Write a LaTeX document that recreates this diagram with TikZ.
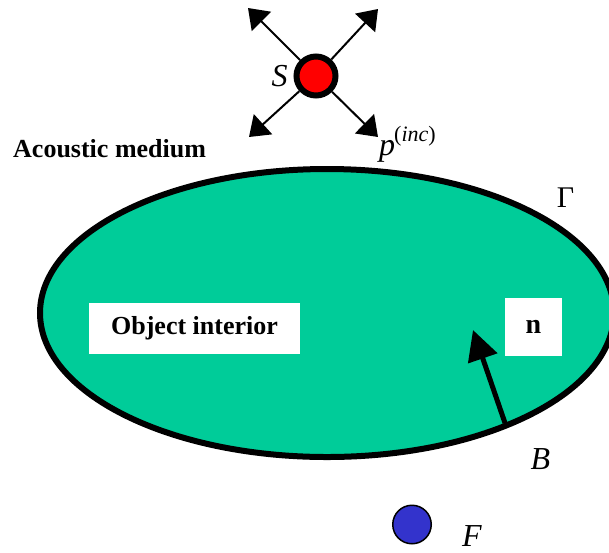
\documentclass[tikz,border=0pt]{standalone}
\usepackage{fontspec}
\setmainfont{Liberation Serif}
\usetikzlibrary{arrows.meta}

\definecolor{objteal}{RGB}{0,204,153}
\definecolor{srcred}{RGB}{255,0,0}
\definecolor{fieldblue}{RGB}{51,51,204}

\begin{document}
\begin{tikzpicture}[x=1pt, y=-1pt,
	boxlabel/.style={fill=white, inner sep=0pt, font=\fontsize{26}{26}\selectfont\bfseries},
	symlabel/.style={inner sep=0pt, font=\fontsize{32}{32}\selectfont\itshape},
	srcarrow/.style={line width=2pt, -{Triangle[length=19pt, width=27pt]}},
	normalarrow/.style={line width=5pt, -{Triangle[length=30pt, width=30pt]}}]
	\useasboundingbox (0,0) rectangle (609,552);
	% object and its boundary
	\draw[line width=6pt, fill=objteal] (327,313) ellipse (287 and 144);
	\node[boxlabel, minimum width=211pt, minimum height=51pt] (interior) at (194.5,328.5) {Object interior};
	\node[boxlabel, font=\fontsize{28}{28}\selectfont\bfseries, minimum width=57pt, minimum height=58pt] (nbox) at (533.5,327) {n};
	\coordinate (bpt) at (505,423); \coordinate (ntip) at (473,330);
	\draw[normalarrow] (bpt) -- (ntip);
	% source and incident field
	\node[circle, draw, line width=6pt, fill=srcred, minimum size=39pt, inner sep=0pt] (src) at (316,76) {};
	\coordinate (tl) at (248,8); \coordinate (tr) at (378,9);
	\coordinate (bl) at (249,137); \coordinate (br) at (378,137);
	\foreach \c in {tl,tr,bl,br} \draw[srcarrow] (src) -- (\c);
	\node[circle, draw, line width=1.5pt, fill=fieldblue, minimum size=38.5pt, inner sep=0pt] (fpt) at (412,524.5) {};
	% labels
	\node[symlabel] (slab) at (279.5,76) {S};
	\node[symlabel, anchor=base west] (plab) at (379,155) {p\kern-1pt\raisebox{14pt}{\fontsize{22}{22}\selectfont\upshape(\itshape inc\/\upshape)}};
	\node[inner sep=0pt, font=\fontsize{26}{26}\selectfont\bfseries, anchor=base west] (medium) at (13,157) {Acoustic medium};
	\node[inner sep=0pt, font=\fontsize{30}{30}\selectfont] (gamma) at (565.5,197.5) {Γ};
	\node[symlabel] (blab) at (540.5,459.5) {B};
	\node[symlabel] (flab) at (472,536.5) {F};
\end{tikzpicture}
\end{document}
